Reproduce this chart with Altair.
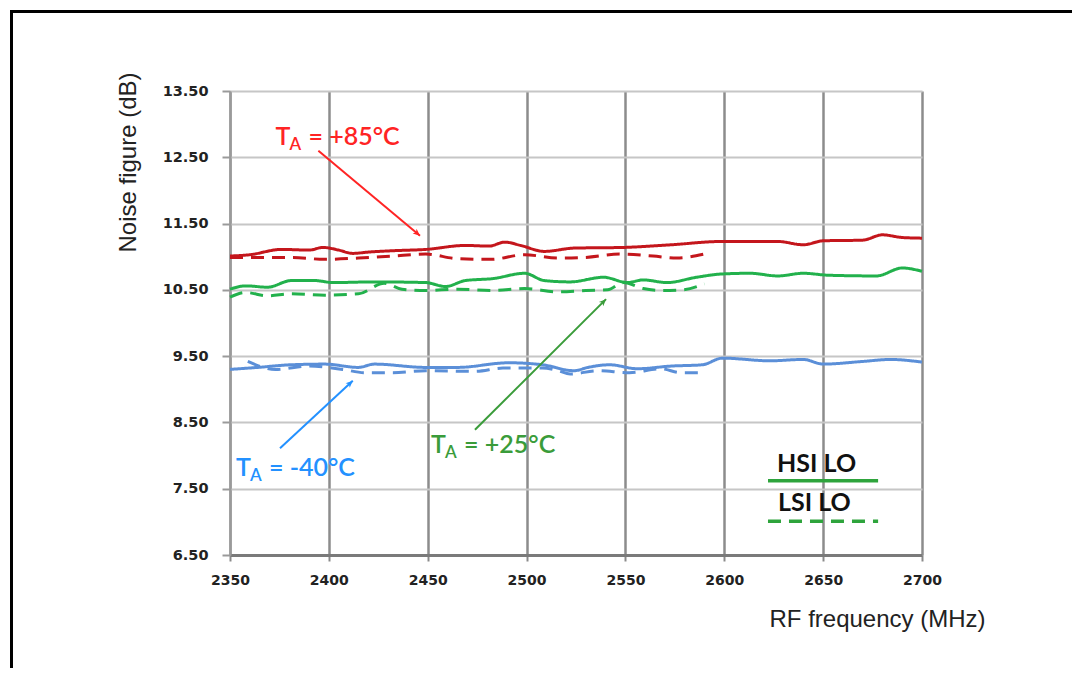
import math
import altair as alt
import pandas as pd

# ---------------- data ----------------
red_hsi_x = [2350, 2360, 2376, 2390, 2397, 2405, 2412, 2420, 2432, 2449, 2469, 2481, 2489, 2497,
             2509, 2524, 2549, 2573, 2599, 2627, 2640, 2650, 2670, 2680, 2690, 2700]
red_hsi_y = [11.01, 11.03, 11.11, 11.10, 11.14, 11.10, 11.05, 11.07, 11.09, 11.11, 11.17, 11.16, 11.22, 11.17,
             11.08, 11.13, 11.14, 11.18, 11.23, 11.23, 11.18, 11.24, 11.25, 11.33, 11.29, 11.28]

red_lsi_x = [2350, 2381, 2398, 2415, 2432, 2449, 2465, 2482, 2499, 2516, 2530, 2547, 2564, 2576, 2590]
red_lsi_y = [10.99, 10.99, 10.96, 10.98, 11.01, 11.04, 10.97, 10.96, 11.03, 10.98, 10.99, 11.04, 11.01, 10.98, 11.04]

green_hsi_x = [2350, 2358, 2369, 2381, 2393, 2402, 2423, 2449, 2459, 2469, 2483, 2499, 2509, 2522,
               2539, 2551, 2559, 2571, 2586, 2599, 2613, 2627, 2640, 2653, 2677, 2690, 2700]
green_hsi_y = [10.51, 10.56, 10.54, 10.64, 10.64, 10.61, 10.62, 10.61, 10.55, 10.64, 10.67, 10.75, 10.64, 10.62,
               10.69, 10.61, 10.65, 10.61, 10.69, 10.74, 10.75, 10.71, 10.75, 10.72, 10.71, 10.83, 10.78]

green_lsi_x = [2350, 2358, 2369, 2381, 2398, 2415, 2428, 2437, 2449, 2465, 2483, 2499, 2516, 2530,
               2541, 2549, 2559, 2569, 2579, 2590]
green_lsi_y = [10.39, 10.46, 10.41, 10.44, 10.42, 10.44, 10.60, 10.51, 10.49, 10.51, 10.49, 10.52, 10.47, 10.49,
               10.50, 10.61, 10.52, 10.49, 10.50, 10.59]

blue_hsi_x = [2350, 2364, 2381, 2398, 2415, 2423, 2449, 2465, 2491, 2508, 2524, 2531, 2542, 2556,
              2573, 2589, 2599, 2623, 2640, 2650, 2670, 2684, 2700]
blue_hsi_y = [9.30, 9.33, 9.37, 9.38, 9.33, 9.38, 9.33, 9.33, 9.40, 9.37, 9.28, 9.33, 9.37, 9.31,
              9.35, 9.37, 9.47, 9.43, 9.45, 9.38, 9.42, 9.45, 9.41]

blue_lsi_x = [2359, 2373, 2390, 2407, 2418, 2432, 2449, 2474, 2488, 2508, 2516, 2522, 2536, 2552,
              2568, 2578, 2590]
blue_lsi_y = [9.42, 9.30, 9.35, 9.30, 9.25, 9.25, 9.28, 9.27, 9.32, 9.32, 9.28, 9.23, 9.28, 9.25,
              9.31, 9.25, 9.25]

x_ticks = [2350, 2400, 2450, 2500, 2550, 2600, 2650, 2700]
y_ticks = [6.5, 7.5, 8.5, 9.5, 10.5, 11.5, 12.5, 13.5]

temp_domain = ["+85", "+25", "-40"]
line_colors = ["#c4161c", "#22b14c", "#5b8fd8"]

# annotations
ann_temp = ["+85", "-40", "+25"]
ann_rest = ["= +85°C", "= -40°C", "= +25°C"]
ann_color = ["#ff2424", "#2391ff", "#3a9c3a"]
ann_label_x = [2373.0, 2353.0, 2451.7]
ann_label_y = [12.685, 7.692, 8.039]
arrow_x0 = [2394.7, 2375.3, 2473.9]
arrow_y0 = [12.60, 8.11, 8.39]
arrow_x1 = [2446.1, 2412.1, 2540.2]
arrow_y1 = [11.317, 9.13, 10.36]

# legend box (drawn inside the plot)
leg_text = ["HSI LO", "LSI  LO"]
leg_text_x = [2626.7, 2627.2]
leg_text_y = [7.753, 7.164]
leg_kind = ["HSI", "LSI"]
leg_line_x = [2622.1, 2677.8]
leg_line_y = [7.621, 7.009]

# ---------------- tables ----------------
W, H = 692, 464
X0, X1, Y0, Y1 = 2350, 2700, 6.5, 13.5
kx = W / (X1 - X0)
ky = H / (Y1 - Y0)

series = [
    ("+85", "HSI", red_hsi_x, red_hsi_y),
    ("+85", "LSI", red_lsi_x, red_lsi_y),
    ("+25", "HSI", green_hsi_x, green_hsi_y),
    ("+25", "LSI", green_lsi_x, green_lsi_y),
    ("-40", "HSI", blue_hsi_x, blue_hsi_y),
    ("-40", "LSI", blue_lsi_x, blue_lsi_y),
]
rows = []
for temp, lo, xs, ys in series:
    for xv, yv in zip(xs, ys):
        rows.append({"temp": temp, "lo": lo, "key": temp + lo, "f": xv, "nf": yv})
df = pd.DataFrame(rows)

angles = []
for a, b, c, d in zip(arrow_x0, arrow_y0, arrow_x1, arrow_y1):
    sx = (c - a) * kx
    sy = -(d - b) * ky
    angles.append((math.degrees(math.atan2(sx, -sy)) + 360) % 360)

ann = pd.DataFrame({
    "temp": ann_temp, "rest": ann_rest, "color": ann_color,
    "f": ann_label_x, "nf": ann_label_y,
    "ax0": arrow_x0, "ay0": arrow_y0, "ax1": arrow_x1, "ay1": arrow_y1,
    "angle": angles,
})

leg_txt = pd.DataFrame({"t": leg_text, "f": leg_text_x, "nf": leg_text_y})
leg_rows = []
for k, yv in zip(leg_kind, leg_line_y):
    for xv in leg_line_x:
        leg_rows.append({"lo": k, "f": xv, "nf": yv})
leg_lines = pd.DataFrame(leg_rows)

# ---------------- encodings ----------------
xscale = alt.Scale(domain=[X0, X1], nice=False, zero=False)
yscale = alt.Scale(domain=[Y0, Y1], nice=False, zero=False)

xaxis = alt.Axis(
    values=x_ticks, format="d", title="RF frequency (MHz)", labelFlush=False,
    labelFont="DejaVu Sans", labelFontWeight="bold", labelFontSize=14, labelColor="#222222",
    labelPadding=12, tickSize=6, tickWidth=2, tickColor="#8a8a8a",
    domainColor="#7a7a7a", domainWidth=3,
    grid=True, gridColor="#8c8c8c", gridWidth=2.5,
    titleFont="Liberation Sans", titleFontSize=24, titleFontWeight="normal", titleColor="#222222",
    titleX=647, titleY=64, titleAlign="center", titleBaseline="middle", titleAngle=0,
)
yaxis = alt.Axis(
    values=y_ticks, format=".2f", title="Noise figure (dB)", labelFlush=False,
    labelFont="DejaVu Sans", labelFontWeight="bold", labelFontSize=14.5, labelColor="#222222",
    labelPadding=14, tickSize=8, tickWidth=2, tickColor="#9a9a9a",
    domainColor="#9a9a9a", domainWidth=2,
    grid=True, gridColor="#c6c6c6", gridWidth=2,
    titleFont="Liberation Sans", titleFontSize=24, titleFontWeight="normal", titleColor="#222222",
    titleX=-102, titleY=71, titleAlign="center", titleBaseline="middle", titleAngle=270,
)

X = alt.X("f:Q", scale=xscale, axis=xaxis)
Y = alt.Y("nf:Q", scale=yscale, axis=yaxis)

lines = alt.Chart(df).mark_line(strokeWidth=3, interpolate="monotone").encode(
    x=X, y=Y,
    color=alt.Color("temp:N", scale=alt.Scale(domain=temp_domain, range=line_colors), legend=None),
    strokeDash=alt.StrokeDash("lo:N", scale=alt.Scale(domain=["HSI", "LSI"], range=[[1, 0], [13, 8]]), legend=None),
    detail="key:N",
    order="f:Q",
)

arrows = alt.Chart(ann).mark_rule(strokeWidth=2).encode(
    x=alt.X("ax0:Q", scale=xscale, axis=xaxis),
    y=alt.Y("ay0:Q", scale=yscale, axis=yaxis),
    x2="ax1:Q", y2="ay1:Q",
    color=alt.Color("color:N", scale=None),
)

heads = alt.Chart(ann).mark_point(
    shape="M0,0L0.5,1.15L0,0.85L-0.5,1.15Z", filled=True, size=150, opacity=1,
).encode(
    x=alt.X("ax1:Q", scale=xscale, axis=xaxis),
    y=alt.Y("ay1:Q", scale=yscale, axis=yaxis),
    angle=alt.Angle("angle:Q", scale=None),
    color=alt.Color("color:N", scale=None),
)

txt_T = alt.Chart(ann).mark_text(
    text="T", font="Lato", fontSize=25, fontWeight=600, align="left", baseline="alphabetic",
).encode(x=X, y=Y, color=alt.Color("color:N", scale=None))

txt_A = alt.Chart(ann).mark_text(
    text="A", font="Lato", fontSize=17, fontWeight=600, align="left", baseline="alphabetic", dx=14, dy=5,
).encode(x=X, y=Y, color=alt.Color("color:N", scale=None))

txt_rest = alt.Chart(ann).mark_text(
    font="Lato", fontSize=25, fontWeight=600, align="left", baseline="alphabetic", dx=33,
).encode(x=X, y=Y, text="rest:N", color=alt.Color("color:N", scale=None))

legend_lines = alt.Chart(leg_lines).mark_line(strokeWidth=3.5, color="#2ea43c").encode(
    x=X, y=Y,
    strokeDash=alt.StrokeDash("lo:N", scale=alt.Scale(domain=["HSI", "LSI"], range=[[1, 0], [10, 7]]), legend=None),
    detail="lo:N",
)

legend_text = alt.Chart(leg_txt).mark_text(
    font="Lato", fontSize=25, fontWeight="bold", color="#111111", align="left", baseline="alphabetic",
).encode(x=X, y=Y, text="t:N")

frame_src = pd.DataFrame({"k": [0]})
frame_left = alt.Chart(frame_src).mark_rule(color="#000000", strokeWidth=3).encode(
    x=alt.value(-218.5), y=alt.value(-81), y2=alt.value(577)
)
frame_top = alt.Chart(frame_src).mark_rule(color="#000000", strokeWidth=3).encode(
    x=alt.value(-220), x2=alt.value(842), y=alt.value(-79.5)
)

chart = alt.layer(
    lines, arrows, heads, txt_T, txt_A, txt_rest, legend_lines, legend_text, frame_left, frame_top
).properties(
    width=W, height=H, padding=0, background="white"
).configure_view(stroke=None)

chart.save("out.html", embed_options={"renderer": "svg", "actions": False})
